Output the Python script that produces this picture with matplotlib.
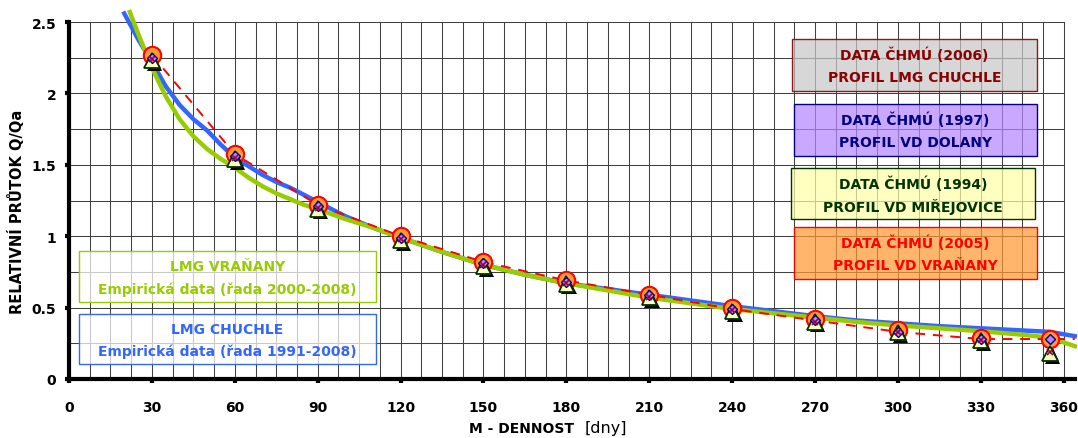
import matplotlib
matplotlib.use("Agg")
import matplotlib.pyplot as plt
import matplotlib.patheffects as pe
from matplotlib.patches import Rectangle

plt.rcParams['font.family'] = ['DejaVu Sans']

# empirical duration curves (day, Q/Qa)
blue_days = [20, 25, 30, 35, 40, 45, 50, 55, 60, 65, 70, 75, 80, 85, 90, 100, 110, 120,
             135, 150, 165, 180, 195, 210, 225, 240, 255, 270, 285, 300, 315, 330, 345, 355, 364]
blue_vals = [2.56, 2.38, 2.22, 2.05, 1.92, 1.82, 1.74, 1.64, 1.55, 1.49, 1.43, 1.38, 1.34, 1.29,
             1.24, 1.14, 1.06, 0.99, 0.89, 0.80, 0.73, 0.67, 0.63, 0.59, 0.55, 0.51, 0.475, 0.44,
             0.41, 0.39, 0.37, 0.355, 0.34, 0.33, 0.30]
green_days = [22, 25, 30, 35, 40, 45, 50, 55, 60, 65, 70, 75, 80, 85, 90, 100, 110, 120,
              135, 150, 165, 180, 195, 210, 225, 240, 255, 270, 285, 300, 315, 330, 345, 355, 364]
green_vals = [2.57, 2.42, 2.18, 1.98, 1.82, 1.70, 1.61, 1.54, 1.48, 1.41, 1.35, 1.30, 1.26, 1.22,
              1.19, 1.12, 1.06, 0.99, 0.89, 0.80, 0.73, 0.67, 0.62, 0.57, 0.53, 0.49, 0.46, 0.43,
              0.40, 0.375, 0.355, 0.335, 0.31, 0.29, 0.23]

# CHMU point data
m_days = [30, 60, 90, 120, 150, 180, 210, 240, 270, 300, 330, 355]
vranany_2005 = [2.27, 1.575, 1.22, 1.0, 0.82, 0.69, 0.59, 0.50, 0.42, 0.34, 0.29, 0.28]
dolany_1997 = [2.25, 1.56, 1.21, 0.99, 0.81, 0.68, 0.585, 0.49, 0.41, 0.33, 0.28, 0.28]
mirejovice_1994 = [2.23, 1.54, 1.19, 0.97, 0.79, 0.665, 0.57, 0.475, 0.40, 0.325, 0.27, 0.18]
chuchle_2006 = [2.24, 1.55, 1.20, 0.98, 0.80, 0.67, 0.575, 0.48, 0.40, 0.33, 0.275, 0.19]

# red dashed trend
trend_days = [30, 60, 90, 120, 150, 180, 210, 240, 270, 300, 330, 364]
trend_vals = [2.27, 1.575, 1.22, 1.0, 0.82, 0.69, 0.59, 0.49, 0.41, 0.33, 0.28, 0.28]

fig = plt.figure(figsize=(10.78, 4.39), dpi=100)
ax = fig.add_axes([0.064, 0.1344, 0.933, 0.8132])

ax.set_xlim(0, 364)
ax.set_ylim(0, 2.5)

# grid
for gx in [i * 7.5 for i in range(49)]:
    ax.axvline(gx, color='0.25', lw=0.75, zorder=1)
for gy in [i * 0.25 for i in range(11)]:
    ax.axhline(gy, color='0.25', lw=0.75, xmax=360 / 364, zorder=1)

ax.plot(blue_days, blue_vals, color='#3366FF', lw=3.2, zorder=3, clip_on=False)
ax.plot(green_days, green_vals, color='#99CC00', lw=3.2, zorder=4, clip_on=False)
ax.plot(trend_days, trend_vals, color='#FF0000', lw=1.4, ls=(0, (5, 4)), zorder=5, clip_on=False)

shadow = [pe.SimplePatchShadow(offset=(2, -2), shadow_rgbFace='black', alpha=1), pe.Normal()]
ax.plot(m_days, vranany_2005, 'o', ms=12.5, mfc='#FF9933', mec='#FF0000', mew=1.5, zorder=6)
ax.plot(m_days, mirejovice_1994, '^', ms=11, mfc='#FFFFC0', mec='#003300', mew=1.3, zorder=7,
        path_effects=shadow)
ax.plot(m_days, dolany_1997, 'D', ms=5.5, mfc='#B388FF', mec='#000080', mew=1, zorder=8)
ax.plot(m_days, chuchle_2006, 'x', ms=5, mec='#990033', mew=1.2, zorder=9)

for s in ['top', 'right']:
    ax.spines[s].set_visible(False)
for s in ['left', 'bottom']:
    ax.spines[s].set_linewidth(3)
    ax.spines[s].set_zorder(10)

ax.set_xticks(range(0, 361, 30))
ax.set_yticks([0, 0.5, 1, 1.5, 2, 2.5])
ax.set_yticklabels(['0', '0.5', '1', '1.5', '2', '2.5'])
ax.tick_params(axis='both', direction='out', length=3, width=3, labelsize=10)
ax.tick_params(axis='x', pad=12)
ax.tick_params(axis='y', pad=6)
for lbl in ax.get_xticklabels() + ax.get_yticklabels():
    lbl.set_fontweight('bold')

ax.set_ylabel('RELATIVNÍ PRŮTOK Q/Qa', fontsize=10.5, fontweight='bold')
ax.yaxis.set_label_coords(-0.044, 0.47)
fig.text(0.484, 0.014, 'M - DENNOST', fontsize=10, fontweight='bold', ha='center')
fig.text(0.542, 0.014, '[dny]', fontsize=11.5, ha='left')

# text boxes
boxes = [
    ((0.0099, 0.216), 0.295, 0.143, 'white', '#99CC00', '#99CC00',
     'LMG VRAŇANY', 'Empirická data (řada 2000-2008)'),
    ((0.0099, 0.042), 0.295, 0.140, 'white', '#3366FF', '#3366FF',
     'LMG CHUCHLE', 'Empirická data (řada 1991-2008)'),
    ((0.719, 0.807), 0.243, 0.145, '#C8C8C8', '#8B1A1A', '#8B0000',
     'DATA ČHMÚ (2006)', 'PROFIL LMG CHUCHLE'),
    ((0.721, 0.625), 0.241, 0.145, '#B388FF', '#000080', '#000080',
     'DATA ČHMÚ (1997)', 'PROFIL VD DOLANY'),
    ((0.718, 0.448), 0.242, 0.143, '#FFFFA8', '#003300', '#003300',
     'DATA ČHMÚ (1994)', 'PROFIL VD MIŘEJOVICE'),
    ((0.721, 0.280), 0.241, 0.146, '#FF9933', '#FF0000', '#FF0000',
     'DATA ČHMÚ (2005)', 'PROFIL VD VRAŇANY'),
]
for (x0, y0), w, h, fc, ec, tc, t1, t2 in boxes:
    ax.add_patch(Rectangle((x0, y0), w, h, transform=ax.transAxes, facecolor=fc,
                           alpha=0.72, edgecolor='none', zorder=11))
    ax.add_patch(Rectangle((x0, y0), w, h, transform=ax.transAxes, facecolor='none',
                           edgecolor=ec, lw=1, zorder=12))
    ax.text(x0 + w / 2, y0 + h * 0.70, t1, transform=ax.transAxes, ha='center', va='center',
            fontsize=10, fontweight='bold', color=tc, zorder=13)
    ax.text(x0 + w / 2, y0 + h * 0.26, t2, transform=ax.transAxes, ha='center', va='center',
            fontsize=10, fontweight='bold', color=tc, zorder=13)

fig.savefig('out.png', dpi=100)
